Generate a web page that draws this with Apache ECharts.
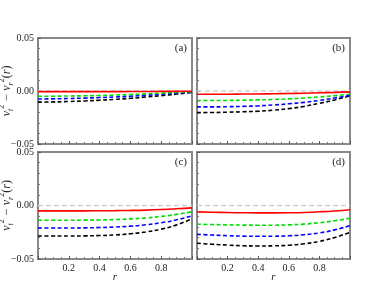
<!DOCTYPE html>
<html><head><meta charset="utf-8">
<script src="https://cdn.jsdelivr.net/npm/echarts@6/dist/echarts.min.js"></script>
<style>html,body{margin:0;padding:0;background:#fff}#c{width:389px;height:298px}</style>
</head><body><div id="c"></div>
<script>
const rVals = [0, 0.1, 0.2, 0.3, 0.4, 0.5, 0.6, 0.7, 0.8, 0.9, 1.0];
const xTicks = [0.2, 0.4, 0.6, 0.8];
const yTicks = ['0.05', '0.00', '\u22120.05'];
const panelLabels = ['(a)', '(b)', '(c)', '(d)'];

const aRed   = [-0.0006,-0.0006,-0.0006,-0.0006,-0.0006,-0.0006,-0.0005,-0.0005,-0.0004,-0.0004,-0.0003];
const aGreen = [-0.0050,-0.0049,-0.0047,-0.0045,-0.0042,-0.0038,-0.0033,-0.0027,-0.0020,-0.0013,-0.0006];
const aBlue  = [-0.0075,-0.0074,-0.0071,-0.0067,-0.0062,-0.0056,-0.0049,-0.0041,-0.0031,-0.0021,-0.0010];
const aBlack = [-0.0105,-0.0103,-0.0099,-0.0094,-0.0087,-0.0079,-0.0069,-0.0057,-0.0044,-0.0029,-0.0012];

const bRed   = [-0.0030,-0.0030,-0.0030,-0.0029,-0.0028,-0.0026,-0.0024,-0.0021,-0.0017,-0.0013,-0.0008];
const bGreen = [-0.0090,-0.0090,-0.0089,-0.0087,-0.0084,-0.0080,-0.0074,-0.0066,-0.0056,-0.0044,-0.0030];
const bBlue  = [-0.0150,-0.0150,-0.0148,-0.0145,-0.0140,-0.0132,-0.0121,-0.0107,-0.0089,-0.0066,-0.0040];
const bBlack = [-0.0204,-0.0203,-0.0200,-0.0196,-0.0191,-0.0181,-0.0166,-0.0145,-0.0116,-0.0084,-0.0045];

const cRed   = [-0.0050,-0.0050,-0.0050,-0.0050,-0.0049,-0.0048,-0.0046,-0.0043,-0.0038,-0.0031,-0.0022];
const cGreen = [-0.0138,-0.0138,-0.0138,-0.0137,-0.0135,-0.0131,-0.0125,-0.0116,-0.0102,-0.0083,-0.0058];
const cBlue  = [-0.0210,-0.0210,-0.0210,-0.0209,-0.0206,-0.0201,-0.0193,-0.0180,-0.0161,-0.0134,-0.0097];
const cBlack = [-0.0285,-0.0285,-0.0285,-0.0284,-0.0281,-0.0275,-0.0264,-0.0247,-0.0221,-0.0181,-0.0125];

const dRed   = [-0.0060,-0.0063,-0.0066,-0.0068,-0.0069,-0.0069,-0.0068,-0.0065,-0.0059,-0.0051,-0.0040];
const dGreen = [-0.0175,-0.0178,-0.0181,-0.0183,-0.0184,-0.0184,-0.0181,-0.0174,-0.0161,-0.0143,-0.0119];
const dBlue  = [-0.0270,-0.0276,-0.0282,-0.0286,-0.0288,-0.0287,-0.0283,-0.0273,-0.0256,-0.0228,-0.0188];
const dBlack = [-0.0353,-0.0362,-0.0370,-0.0376,-0.0378,-0.0377,-0.0371,-0.0358,-0.0335,-0.0299,-0.0250];

const panels = [
  [aRed, aGreen, aBlue, aBlack],
  [bRed, bGreen, bBlue, bBlack],
  [cRed, cGreen, cBlue, cBlack],
  [dRed, dGreen, dBlue, dBlack]
];
const colors = ['#ff0000', '#00dd00', '#0000ff', '#000000'];
const FONT = 'Liberation Serif';

const grids = [
  {left: 38, top: 38, width: 154, height: 106},
  {left: 197, top: 38, width: 153, height: 106},
  {left: 38, top: 152, width: 154, height: 107},
  {left: 197, top: 152, width: 153, height: 107}
];

const yLabelMap = {'0.05': yTicks[0], '0': yTicks[1], '-0.05': yTicks[2]};

const xAxes = [], yAxes = [], series = [], graphics = [];
grids.forEach((g, i) => {
  g.show = true; g.borderColor = '#888'; g.borderWidth = 2; g.backgroundColor = 'transparent';
  g.containLabel = false; g.outerBoundsMode = 'none';
  const bottomRow = i >= 2, leftCol = i % 2 === 0;
  xAxes.push({
    type: 'value', gridIndex: i, min: 0, max: 1, interval: 0.2,
    axisLine: {show: false, onZero: false},
    axisTick: {show: true, inside: true, length: 3, lineStyle: {color: '#555'}},
    minorTick: {show: true, splitNumber: 4, length: 2, lineStyle: {color: '#777'}},
    splitLine: {show: false},
    axisLabel: {
      show: bottomRow, fontFamily: FONT, fontSize: 10, color: '#222', margin: 4,
      formatter: v => { const m = xTicks.find(t => Math.abs(t - v) < 1e-9); return m !== undefined ? m.toFixed(1) : ''; }
    },
    name: bottomRow ? 'r' : '', nameLocation: 'middle', nameGap: 13, nameMoveOverlap: false,
    nameTextStyle: {fontFamily: FONT, fontSize: 11, fontStyle: 'italic', color: '#222'}
  });
  yAxes.push({
    type: 'value', gridIndex: i, min: -0.05, max: 0.05, interval: 0.05,
    axisLine: {show: false, onZero: false},
    axisTick: {show: true, inside: true, length: 3, lineStyle: {color: '#555'}},
    minorTick: {show: true, splitNumber: 5, length: 2, lineStyle: {color: '#777'}},
    splitLine: {show: false},
    axisLabel: {
      show: leftCol, fontFamily: FONT, fontSize: 10, color: '#222', margin: 4,
      formatter: v => { const k = String(Math.round(v * 100) / 100); return yLabelMap[k] !== undefined ? yLabelMap[k] : ''; }
    },
    name: leftCol ? '{b|v}{s|t}{p|2}{b| \u2212 v}{s|r}{p|2}{n|(}{b|r}{n|)}' : '',
    nameLocation: 'middle', nameGap: 23, nameRotate: 90, nameMoveOverlap: false,
    nameTextStyle: {
      fontFamily: FONT, fontSize: 12, color: '#222',
      rich: {
        b: {fontFamily: FONT, fontSize: 12, fontStyle: 'italic', color: '#222', lineHeight: 17, verticalAlign: 'middle'},
        n: {fontFamily: FONT, fontSize: 12, color: '#222', lineHeight: 17, verticalAlign: 'middle'},
        s: {fontFamily: FONT, fontSize: 8, fontStyle: 'italic', color: '#222', lineHeight: 17, verticalAlign: 'bottom'},
        p: {fontFamily: FONT, fontSize: 8, color: '#222', lineHeight: 17, verticalAlign: 'top'}
      }
    }
  });
  series.push({
    type: 'line', xAxisIndex: i, yAxisIndex: i, symbol: 'none', silent: true,
    data: [[0, 0], [1, 0]],
    lineStyle: {color: '#d0d0d0', width: 1.3, type: [5, 3]}, z: 1
  });
  panels[i].forEach((arr, k) => {
    series.push({
      type: 'line', xAxisIndex: i, yAxisIndex: i, symbol: 'none', smooth: true, silent: true,
      data: rVals.map((r, j) => [r, arr[j]]),
      lineStyle: {color: colors[k], width: 1.6, type: k === 0 ? 'solid' : [4, 2.5]}, z: 5 - k
    });
  });
  graphics.push({
    type: 'text', right: 389 - (g.left + g.width) + 5, top: g.top + 5,
    style: {text: panelLabels[i], font: '11px "Liberation Serif"', fill: '#222'}
  });
});

const chart = echarts.init(document.getElementById('c'), null, {renderer: 'canvas'});
chart.setOption({
  animation: false,
  backgroundColor: '#fff',
  grid: grids, xAxis: xAxes, yAxis: yAxes, series: series, graphic: graphics
});
</script></body></html>
